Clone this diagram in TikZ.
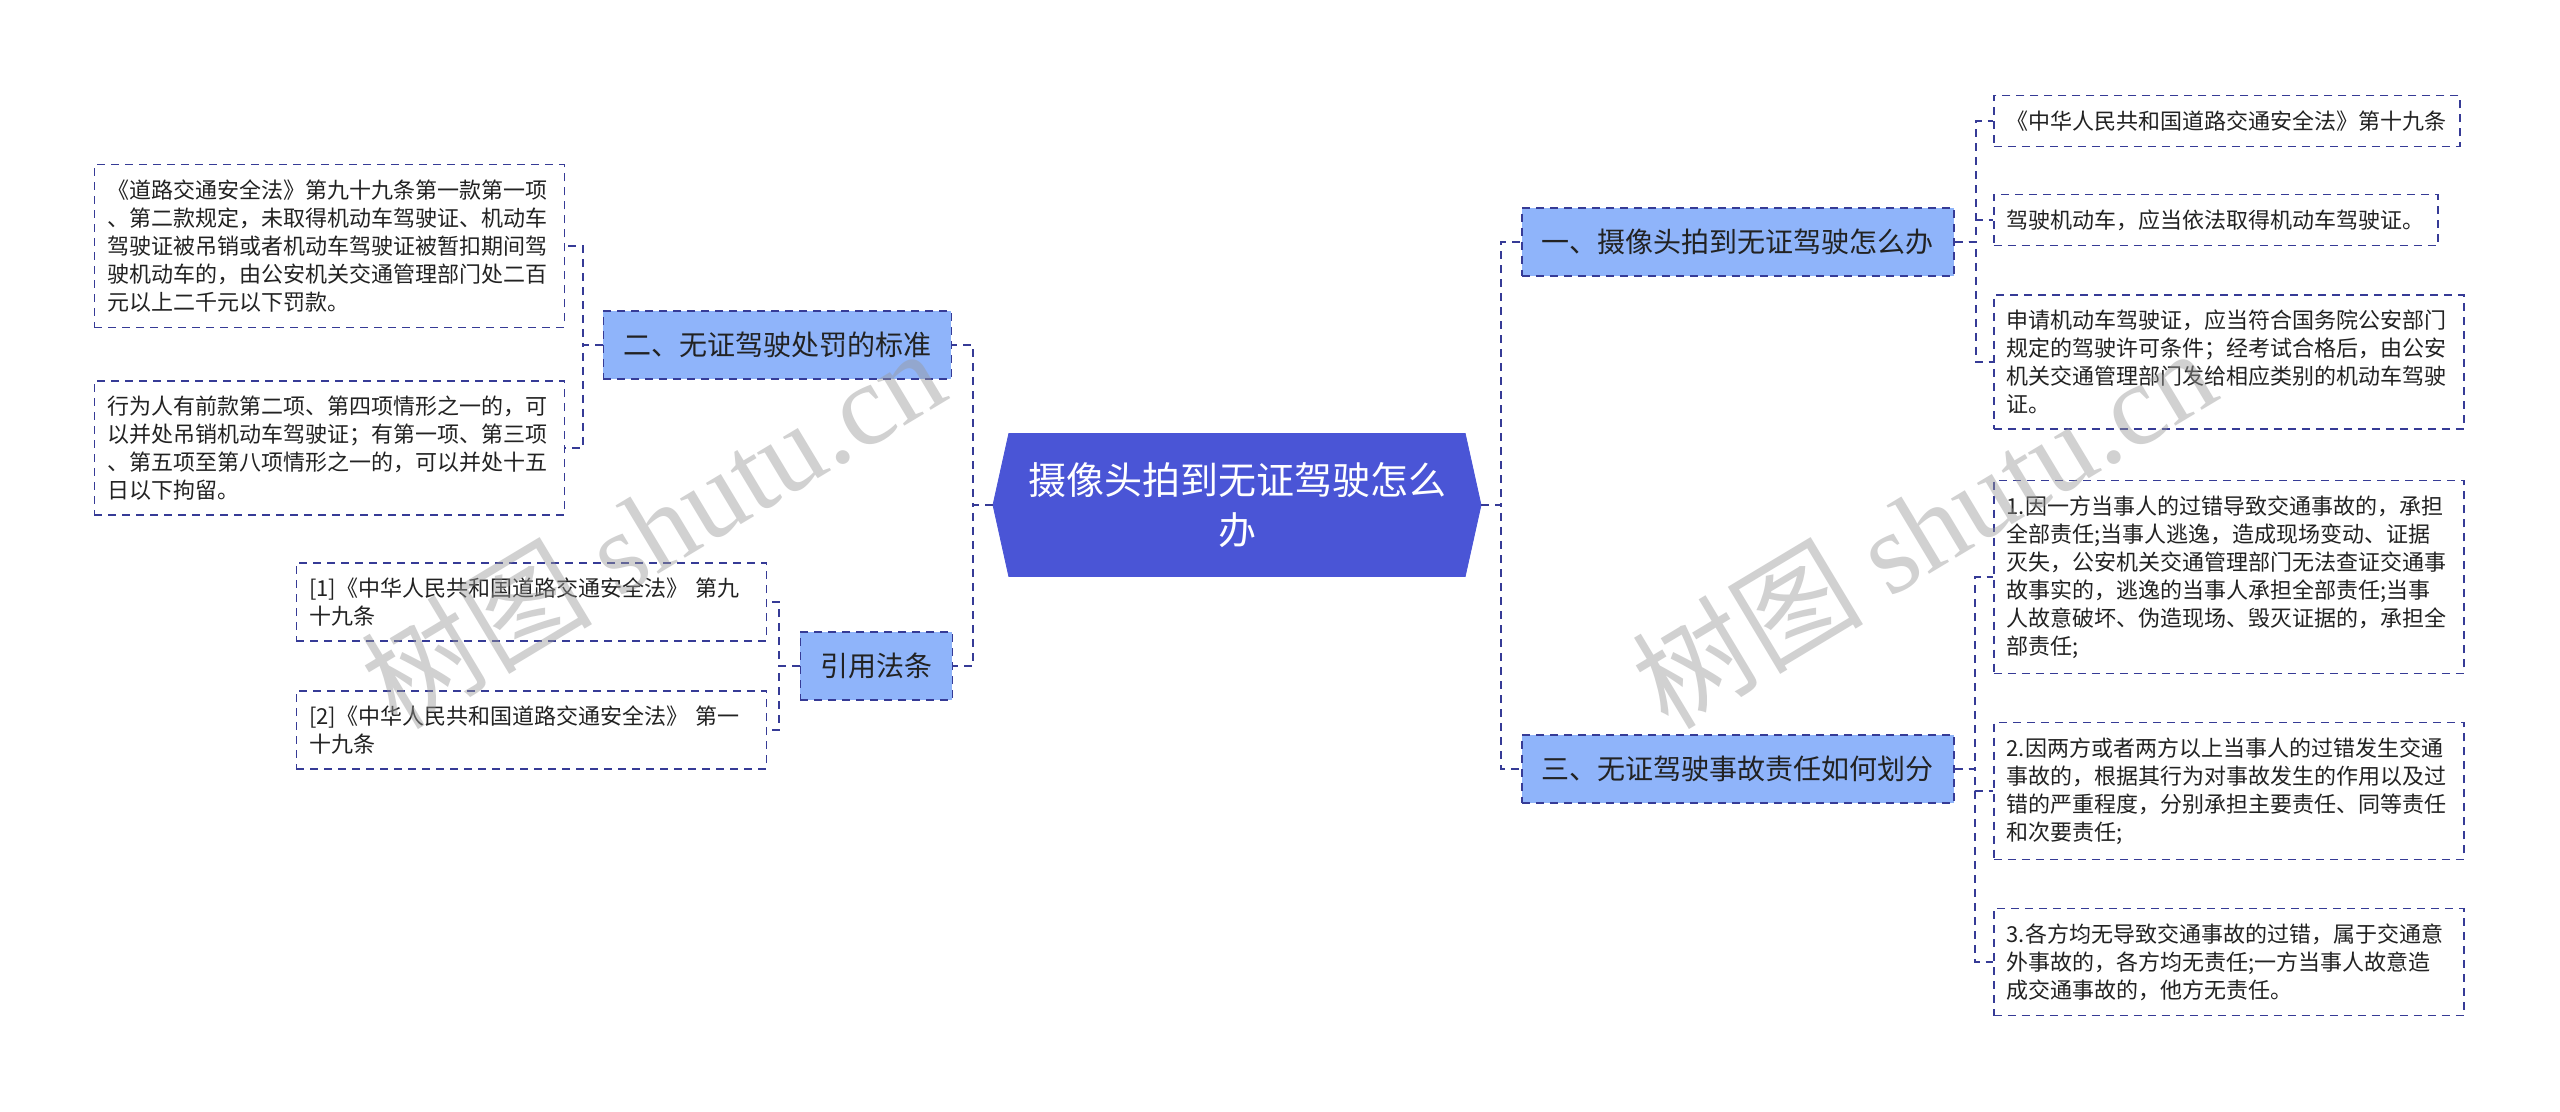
\documentclass[tikz,border=0pt]{standalone}
\usepackage{fontspec}
\setmainfont{Noto Sans CJK SC}
\newfontfamily\wmlatin{Liberation Serif}
\usepackage[HTML]{xcolor}
\usepackage{tikz}
\usetikzlibrary{positioning, shapes.symbols}

\definecolor{rootblue}{HTML}{4A55D6}
\definecolor{branchblue}{HTML}{8FB4FA}
\definecolor{linenavy}{HTML}{363B96}
\definecolor{inktext}{HTML}{222222}

\tikzset{
  rootnode/.style={shape=signal, signal to=east and west, signal pointer angle=155,
    fill=rootblue, draw=rootblue, text=white, align=center,
    minimum width=244pt, minimum height=71.5pt, inner xsep=8pt,
    font=\fontsize{19pt}{25pt}\selectfont},
  branch/.style={draw=linenavy, fill=branchblue, dash pattern=on 4pt off 3pt,
    line width=0.75pt, text=inktext, minimum height=34pt, inner xsep=10pt,
    font=\fontsize{14pt}{17pt}\selectfont},
  leaf/.style={draw=linenavy, fill=white, dash pattern=on 4pt off 3pt,
    line width=0.75pt, text=inktext, align=left, inner xsep=6.5pt, inner ysep=7.5pt,
    font=\fontsize{11pt}{14pt}\selectfont},
  wide/.style={text width=222pt},
  link/.style={draw=linenavy, line width=1pt, dash pattern=on 4pt off 3pt},
  watermark/.style={rotate=31, text=black!40, text opacity=0.45,
    font=\fontsize{58pt}{58pt}\selectfont}
}

\begin{document}
\begin{tikzpicture}[x=0.5pt, y=-0.5pt]

    \fill[white] (0,0) rectangle (2560,1112);
    \useasboundingbox (0,0) rectangle (2560,1112);

    % 1. Root node
    \node[rootnode] (root) at (1237,505) {摄像头拍到无证驾驶怎么\\办};

    % 2. Branch nodes
    \node[branch, anchor=west] (lawB) at (1521,242) {一、摄像头拍到无证驾驶怎么办};
    \node[branch, anchor=east] (fineB) at (952,345) {二、无证驾驶处罚的标准};
    \node[branch, anchor=east] (citeB) at (953,666) {引用法条};
    \node[branch, anchor=west] (blameB) at (1521,769) {三、无证驾驶事故责任如何划分};

    % 3. Leaves on the left
    \node[leaf, wide, anchor=east] (fineA) at (565,246) {《道路交通安全法》第九十九条第一款第一项\\、第二款规定，未取得机动车驾驶证、机动车\\驾驶证被吊销或者机动车驾驶证被暂扣期间驾\\驶机动车的，由公安机关交通管理部门处二百\\元以上二千元以下罚款。};
    \node[leaf, wide, anchor=east] (fineC) at (565,448) {行为人有前款第二项、第四项情形之一的，可\\以并处吊销机动车驾驶证；有第一项、第三项\\、第五项至第八项情形之一的，可以并处十五\\日以下拘留。};
    \node[leaf, wide, anchor=east] (citeA) at (767,602) {[1]《中华人民共和国道路交通安全法》 第九\\十九条};
    \node[leaf, wide, anchor=east] (citeC) at (767,730) {[2]《中华人民共和国道路交通安全法》 第一\\十九条};

    % 4. Leaves on the right
    \node[leaf, anchor=west] (lawA) at (1993,121) {《中华人民共和国道路交通安全法》第十九条};
    \node[leaf, anchor=west] (lawC) at (1993,220) {驾驶机动车，应当依法取得机动车驾驶证。};
    \node[leaf, wide, anchor=west] (lawE) at (1993,362) {申请机动车驾驶证，应当符合国务院公安部门\\规定的驾驶许可条件；经考试合格后，由公安\\机关交通管理部门发给相应类别的机动车驾驶\\证。};
    \node[leaf, wide, anchor=west] (blameA) at (1993,577) {1.因一方当事人的过错导致交通事故的，承担\\全部责任;当事人逃逸，造成现场变动、证据\\灭失，公安机关交通管理部门无法查证交通事\\故事实的，逃逸的当事人承担全部责任;当事\\人故意破坏、伪造现场、毁灭证据的，承担全\\部责任;};
    \node[leaf, wide, anchor=west] (blameC) at (1993,791) {2.因两方或者两方以上当事人的过错发生交通\\事故的，根据其行为对事故发生的作用以及过\\错的严重程度，分别承担主要责任、同等责任\\和次要责任;};
    \node[leaf, wide, anchor=west] (blameE) at (1993,962) {3.各方均无导致交通事故的过错，属于交通意\\外事故的，各方均无责任;一方当事人故意造\\成交通事故的，他方无责任。};

    % 5. Connectors root -> branches
    \draw[link] (root.west) -- ++(-20,0) |- (fineB.east);
    \draw[link] (root.west) -- ++(-20,0) |- (citeB.east);
    \draw[link] (root.east) -- ++(20,0) |- (lawB.west);
    \draw[link] (root.east) -- ++(20,0) |- (blameB.west);

    % 6. Connectors branches -> leaves
    \draw[link] (fineB.west) -- ++(-20,0) |- (fineA.east);
    \draw[link] (fineB.west) -- ++(-20,0) |- (fineC.east);
    \draw[link] (citeB.west) -- ++(-21,0) |- (citeA.east);
    \draw[link] (citeB.west) -- ++(-21,0) |- (citeC.east);
    \draw[link] (lawB.east) -- ++(21,0) |- (lawA.west);
    \draw[link] (lawB.east) -- ++(21,0) |- (lawC.west);
    \draw[link] (lawB.east) -- ++(21,0) |- (lawE.west);
    \draw[link] (blameB.east) -- ++(20,0) |- (blameA.west);
    \draw[link] (blameB.east) -- ++(20,0) |- (blameC.west);
    \draw[link] (blameB.east) -- ++(20,0) |- (blameE.west);

    % 7. Watermarks
    \node[watermark] (markL) at (652,527) {树图 {\wmlatin shutu.cn}};
    \node[watermark] (markR) at (1923,527) {树图 {\wmlatin shutu.cn}};
\end{tikzpicture}
\end{document}
